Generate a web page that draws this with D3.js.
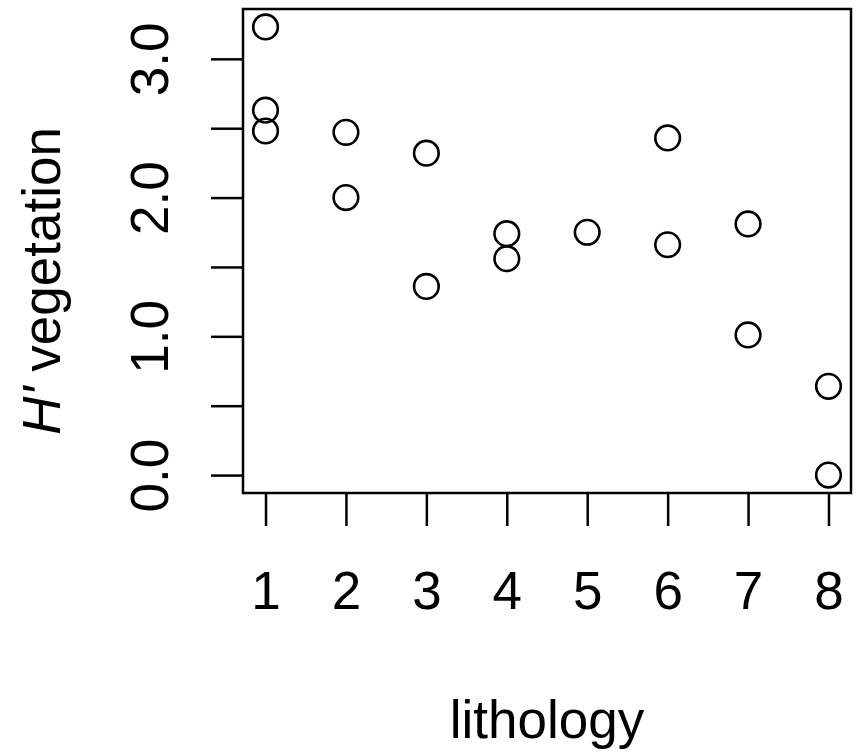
<!DOCTYPE html>
<html>
<head>
<meta charset="utf-8">
<script src="https://cdn.jsdelivr.net/npm/d3@7"></script>
<style>
  body { margin: 0; background: #fff; }
  svg text { font-family: "Liberation Sans", Arial, Helvetica, sans-serif; fill: #000; }
</style>
</head>
<body>
<svg id="chart" width="862" height="755"></svg>
<script>
// values
var lithology = [1, 1, 1, 2, 2, 3, 3, 4, 4, 5, 6, 6, 7, 7, 8, 8];
var hVeg = [3.23, 2.63, 2.48, 2.47, 2.0, 2.32, 1.36, 1.74, 1.56, 1.75, 2.43, 1.66, 1.81, 1.01, 0.64, 0.0];
var xTicks = [1, 2, 3, 4, 5, 6, 7, 8];
var yTicks = [0, 0.5, 1, 1.5, 2, 2.5, 3];
var yTickLabels = ["0.0", "", "1.0", "", "2.0", "", "3.0"];

var svg = d3.select("#chart"),
    margin = {top: 9, left: 243, right: 11, bottom: 262},
    width = +svg.attr("width") - margin.left - margin.right,
    height = +svg.attr("height") - margin.top - margin.bottom;

// R style 4% padding on both ends
function pad(ext) { var d = (ext[1] - ext[0]) * 0.04; return [ext[0] - d, ext[1] + d]; }

var x = d3.scaleLinear().domain(pad(d3.extent(lithology))).range([0, width]);
var y = d3.scaleLinear().domain(pad(d3.extent(hVeg))).range([height, 0]);

var g = svg.append("g").attr("transform", "translate(" + margin.left + "," + margin.top + ")");

var fs = 53;

var xAxis = g.append("g")
  .attr("transform", "translate(0," + height + ")")
  .call(d3.axisBottom(x).tickValues(xTicks).tickSize(33).tickSizeOuter(0).tickFormat(d3.format("d")));
xAxis.select(".domain").remove();
xAxis.selectAll("line").attr("stroke", "#000").attr("stroke-width", 2.5);
xAxis.selectAll("text")
  .attr("y", 116).attr("dy", 0)
  .style("font-size", fs + "px");

var yAxis = g.append("g")
  .call(d3.axisLeft(y).tickValues(yTicks).tickSize(32).tickSizeOuter(0)
    .tickFormat(function(d, i) { return yTickLabels[i]; }));
yAxis.select(".domain").remove();
yAxis.selectAll("line").attr("stroke", "#000").attr("stroke-width", 2.5);
yAxis.selectAll("text")
  .attr("x", null).attr("dy", 0)
  .attr("text-anchor", "middle")
  .attr("transform", "translate(-75,0) rotate(-90)")
  .style("font-size", fs + "px");

// plot box
g.append("rect")
  .attr("x", 0).attr("y", 0)
  .attr("width", width).attr("height", height)
  .attr("fill", "none")
  .attr("stroke", "#000")
  .attr("stroke-width", 2.5);

g.selectAll("circle.pt")
  .data(lithology)
  .enter().append("circle")
  .attr("class", "pt")
  .attr("cx", function(d) { return x(d); })
  .attr("cy", function(d, i) { return y(hVeg[i]); })
  .attr("r", 12.3)
  .attr("fill", "none")
  .attr("stroke", "#000")
  .attr("stroke-width", 2.6);

svg.append("text")
  .attr("x", margin.left + width / 2)
  .attr("y", 738)
  .attr("text-anchor", "middle")
  .style("font-size", fs + "px")
  .text("lithology");

var yl = svg.append("text")
  .attr("text-anchor", "middle")
  .attr("transform", "translate(60,281) rotate(-90)")
  .style("font-size", fs + "px");
yl.append("tspan").style("font-style", "italic").text("H'");
yl.append("tspan").text(" vegetation");
</script>
</body>
</html>
